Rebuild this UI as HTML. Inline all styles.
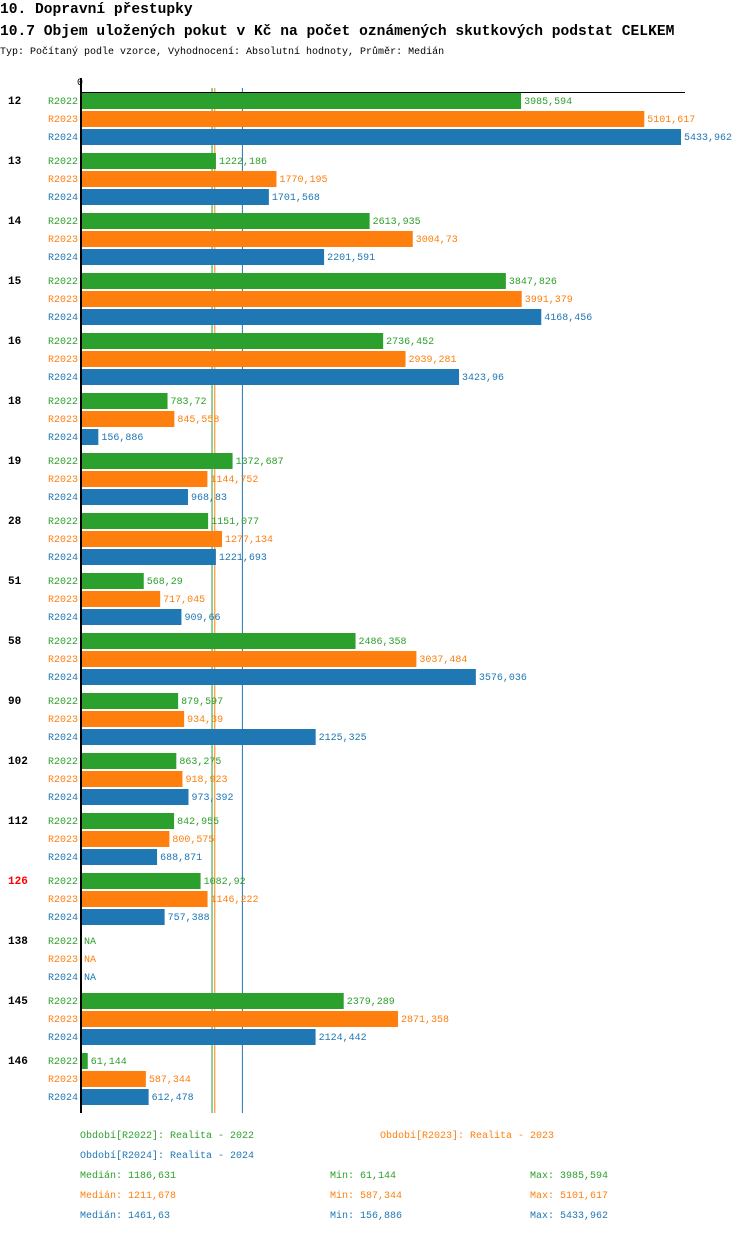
<!DOCTYPE html>
<html><head><meta charset="utf-8">
<style>
body{margin:0;background:#fff;width:750px;height:1232px;overflow:hidden;font-family:"Liberation Mono",monospace;}
svg text{font-family:"Liberation Mono","DejaVu Sans Mono",monospace;}
</style></head>
<body>
<svg id="chart" width="750" height="1232" xmlns="http://www.w3.org/2000/svg">
<text x="0" y="13" font-size="14.6" font-weight="bold">10. Dopravní přestupky</text>
<text x="0" y="35" font-size="14.6" font-weight="bold">10.7 Objem uložených pokut v Kč na počet oznámených skutkových podstat CELKEM</text>
<text x="0" y="54" font-size="10">Typ: Počítaný podle vzorce, Vyhodnocení: Absolutní hodnoty, Průměr: Medián</text>
<g id="bars"></g>
</svg>
<script>
const categories=["12","13","14","15","16","18","19","28","51","58","90","102","112","126","138","145","146"];
const r2022=[3985.594,1222.186,2613.935,3847.826,2736.452,783.72,1372.687,1151.077,568.29,2486.358,879.597,863.275,842.955,1082.92,null,2379.289,61.144];
const r2023=[5101.617,1770.195,3004.73,3991.379,2939.281,845.558,1144.752,1277.134,717.045,3037.484,934.39,918.923,800.575,1146.222,null,2871.358,587.344];
const r2024=[5433.962,1701.568,2201.591,4168.456,3423.96,156.886,968.83,1221.693,909.66,3576.036,2125.325,973.392,688.871,757.388,null,2124.442,612.478];
const seriesNames=["R2022","R2023","R2024"];
const colors=["#2ca02c","#ff7f0e","#1f77b4"];
const medians=[1186.631,1211.678,1461.63];
const mins=["61,144","587,344","156,886"];
const maxs=["3985,594","5101,617","5433,962"];
const highlighted=["126"];

const NS="http://www.w3.org/2000/svg";
const svg=document.getElementById('bars');
const x0=81, maxV=5433.962, W=600;
const xs=v=>x0+v/maxV*W;
const fmt=v=>String(v).replace('.',',');
function el(tag,attrs,txt){const e=document.createElementNS(NS,tag);for(const k in attrs)e.setAttribute(k,attrs[k]);if(txt!=null)e.textContent=txt;svg.appendChild(e);return e;}
const series=[r2022,r2023,r2024];
const top0=93;
medians.forEach((m,j)=>{
  let ln=el('line',{x1:xs(m),x2:xs(m),y1:88,y2:1113,stroke:colors[j],'stroke-width':1});
  
  
});
let t=el('text',{x:x0-4,y:85,'font-size':10},'0');


categories.forEach((c,i)=>{
  const gy=top0+i*60;
  let g=el('text',{x:8,y:gy+11,'font-size':11,'font-weight':'bold',fill:highlighted.includes(c)?'#ff0000':'#000'},c);
  
  
  series.forEach((s,j)=>{
    const y=gy+j*18;
    let l=el('text',{x:78,y:y+11,'font-size':10,'text-anchor':'end',fill:colors[j]},seriesNames[j]);
    
    
    const v=s[i];
    if(v==null){
      let n=el('text',{x:x0+3,y:y+11,'font-size':10,fill:colors[j]},'NA');
      
      
      return;
    }
    let r=el('rect',{x:x0,y:y,width:xs(v)-x0,height:16,fill:colors[j]});
    
    
    let vt=el('text',{x:xs(v)+3,y:y+11,'font-size':10,fill:colors[j]},fmt(v));
    
    
  });
});
let ax=el('line',{x1:81,x2:81,y1:78,y2:1113,stroke:'#000','stroke-width':2});


let hx=el('line',{x1:80,x2:685,y1:92.5,y2:92.5,stroke:'#000','stroke-width':1});


const legendPos=[[80,1138],[380,1138],[80,1158]];
seriesNames.forEach((n,j)=>{
  let lg=el('text',{x:legendPos[j][0],y:legendPos[j][1],'font-size':10,fill:colors[j]},'Období['+n+']: Realita - '+n.slice(1));
  
  
  const y=1178+j*20;
  let a=el('text',{x:80,y:y,'font-size':10,fill:colors[j]},'Medián: '+fmt(medians[j]));
  
  
  let b=el('text',{x:330,y:y,'font-size':10,fill:colors[j]},'Min: '+mins[j]);
  
  
  let c=el('text',{x:530,y:y,'font-size':10,fill:colors[j]},'Max: '+maxs[j]);
  
  
});
</script>
</body></html>
